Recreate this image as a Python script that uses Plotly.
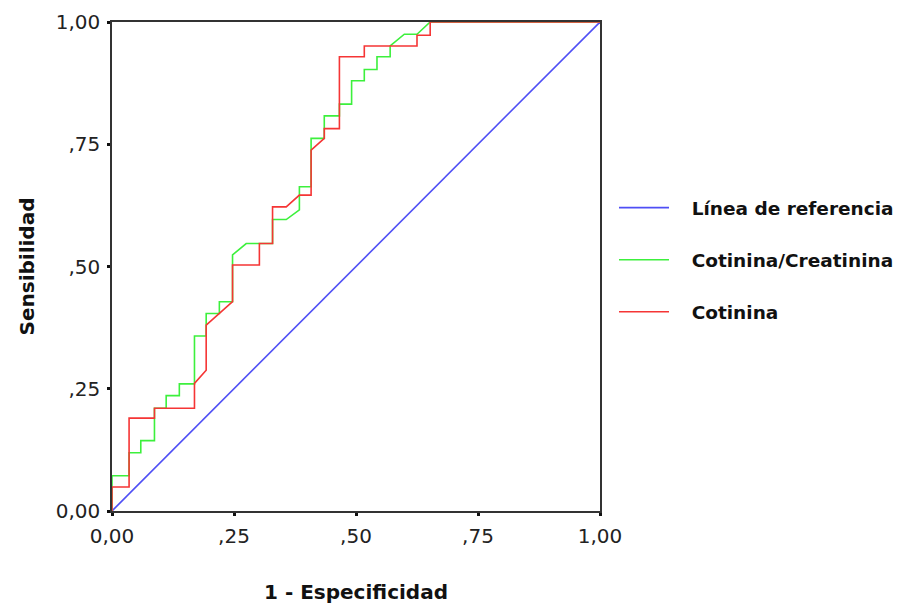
import plotly.graph_objects as go

# ROC curve points (1 - Especificidad, Sensibilidad)
ref_x = [0.0, 1.0]
ref_y = [0.0, 1.0]

cc_x = [0.0, 0.0, 0.035, 0.035, 0.059, 0.059, 0.087, 0.087, 0.111, 0.111, 0.138, 0.138,
        0.169, 0.169, 0.193, 0.193, 0.220, 0.220, 0.247, 0.247, 0.275, 0.302, 0.329, 0.329,
        0.357, 0.384, 0.384, 0.408, 0.408, 0.435, 0.435, 0.466, 0.466, 0.491, 0.491, 0.517,
        0.517, 0.543, 0.543, 0.570, 0.570, 0.599, 0.625, 0.652, 1.0]
cc_y = [0.0, 0.072, 0.072, 0.119, 0.119, 0.144, 0.144, 0.210, 0.210, 0.236, 0.236, 0.260,
        0.260, 0.358, 0.358, 0.404, 0.404, 0.428, 0.428, 0.524, 0.547, 0.547, 0.547, 0.596,
        0.596, 0.616, 0.663, 0.663, 0.762, 0.762, 0.808, 0.808, 0.832, 0.832, 0.880, 0.880,
        0.903, 0.903, 0.929, 0.929, 0.951, 0.975, 0.975, 1.0, 1.0]

cot_x = [0.0, 0.0, 0.035, 0.035, 0.087, 0.087, 0.169, 0.169, 0.193, 0.193, 0.247, 0.247,
         0.302, 0.302, 0.329, 0.329, 0.357, 0.384, 0.408, 0.408, 0.435, 0.435, 0.466, 0.466,
         0.517, 0.517, 0.625, 0.625, 0.652, 0.652, 1.0]
cot_y = [0.0, 0.049, 0.049, 0.190, 0.190, 0.210, 0.210, 0.261, 0.288, 0.380, 0.428, 0.503,
         0.503, 0.547, 0.547, 0.622, 0.622, 0.646, 0.646, 0.738, 0.762, 0.782, 0.782, 0.929,
         0.929, 0.951, 0.951, 0.973, 0.973, 1.0, 1.0]

tick_vals = [0, 0.25, 0.5, 0.75, 1.0]
tick_text = ["0,00", ",25", ",50", ",75", "1,00"]

names = ["Línea de referencia", "Cotinina/Creatinina", "Cotinina"]
colors = ["#4f4ff5", "#3cf03c", "#f53535"]

pad = "\u00a0\u00a0\u00a0"
fig = go.Figure()
for i, (xs, ys) in enumerate([(ref_x, ref_y), (cc_x, cc_y), (cot_x, cot_y)]):
    fig.add_trace(go.Scatter(
        x=xs, y=ys, mode="lines", name=pad + "<b>" + names[i] + "</b>", legendgroup=str(i),
        line=dict(color=colors[i], width=1.6), cliponaxis=False))

font = "DejaVu Sans, Verdana, sans-serif"
axis_common = dict(
    range=[0, 1], tickvals=tick_vals, ticktext=tick_text, automargin=False,
    showgrid=False, zeroline=False, showline=True, linecolor="#333", linewidth=1.5,
    mirror=True, ticks="outside", ticklen=3, tickwidth=3, tickcolor="#111",
    ticklabelstandoff=3,
    tickfont=dict(family=font, size=20, color="#222"),
)
fig.update_layout(
    width=911, height=606,
    margin=dict(l=104, r=319, t=14, b=103),
    paper_bgcolor="white", plot_bgcolor="white",
    xaxis=dict(**axis_common,
               title=dict(text="<b>1 - Especificidad</b>", standoff=38,
                          font=dict(family=font, size=20, color="#111"))),
    yaxis=dict(**axis_common,
               title=dict(text="<b>Sensibilidad</b>", standoff=16,
                          font=dict(family=font, size=20, color="#111"))),
    legend=dict(xref="container", yref="paper", x=0.6652, xanchor="left",
                y=0.513, yanchor="middle",
                font=dict(family=font, size=18.5, color="#111"),
                itemwidth=50, tracegroupgap=25, bgcolor="rgba(0,0,0,0)"),
    showlegend=True,
)
fig.write_html("out.html")
